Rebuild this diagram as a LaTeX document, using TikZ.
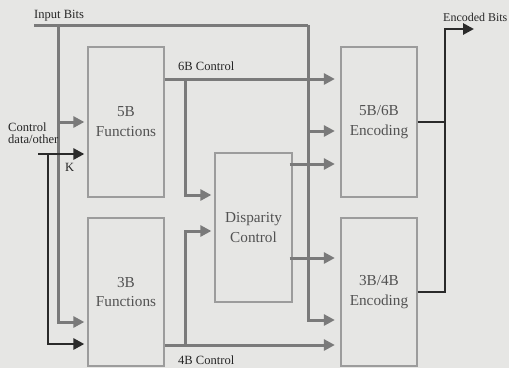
\documentclass[tikz,border=0pt]{standalone}
\usepackage{fontspec}
\setmainfont{Liberation Serif}
\usetikzlibrary{positioning,calc,arrows.meta}
\definecolor{bggray}{HTML}{E6E6E4}
\definecolor{linegray}{HTML}{7A7A7A}
\definecolor{boxgray}{HTML}{9C9C9C}
\definecolor{inkdark}{HTML}{2A2A2A}

\begin{document}
\begin{tikzpicture}[x=1bp, y=-1bp,
        block/.style={draw=boxgray, line width=1.3bp, rectangle, minimum width=76bp, minimum height=150bp, inner sep=0pt, align=center, text=black!68, font=\fontsize{15.3}{20}\selectfont},
        lbl/.style={inner sep=0pt, text=black!85, font=\fontsize{12.6}{12}\selectfont},
        sig/.style={draw=linegray, line width=3bp},
        ctl/.style={draw=inkdark, line width=2.8bp},
        arr/.style={->, shorten >=3bp},
        earr/.style={->, shorten >=5.5bp},
        >={Triangle[length=11bp,width=11bp]}
    ]
        \fill[bggray] (0,0) rectangle (509,368);
        \useasboundingbox (0,0) rectangle (509,368);

        % blocks
        \node [block] (fiveB) at (126,122) {5B\\Functions};
        \node [block, minimum height=148bp] (threeB) at (126,292) {3B\\Functions};
        \node [block, minimum width=77bp, minimum height=149bp] (disp) at (253.5,227.5) {Disparity\\Control};
        \node [block] (enc6) at (379,122) {5B/6B\\Encoding};
        \node [block, minimum height=148bp] (enc4) at (379,292) {3B/4B\\Encoding};

        % junctions and free ends
        \coordinate (inL) at (34,25);
        \coordinate (inT) at (58,25);
        \coordinate (inR) at (308,25);
        \coordinate (ctlL) at (38,154);
        \coordinate (ctlT) at (48,154);
        \coordinate (sixT) at (185,79);
        \coordinate (fourT) at (185,345);
        \coordinate (outT) at (445,29);
        \coordinate (outR) at (474,29);

        % input bits
        \draw [sig] (inL) -- (inR);
        \draw [sig, arr] (inT |- fiveB.west) -- (fiveB.west);
        \draw [sig, arr] (inT) |- (threeB.west |- 0,322);
        \draw [sig, earr] (inR |- 0,131) -- (enc6.west |- 0,131);
        \draw [sig, earr] (inR) |- (enc4.west |- 0,320);

        % control data / K
        \draw [ctl, arr] (ctlL) -- (fiveB.west |- ctlL);
        \draw [ctl, arr] (ctlT) |- (threeB.west |- 0,344);

        % 6B and 4B control
        \draw [sig, earr] (fiveB.east |- sixT) -- (enc6.west |- sixT);
        \draw [sig, arr] (sixT) |- (disp.west |- 0,195);
        \draw [sig, earr] (threeB.east |- fourT) -- (enc4.west |- fourT);
        \draw [sig, arr] (fourT) |- (disp.west |- 0,231);

        % disparity outputs
        \draw [sig, earr] ($(disp.east |- 0,164)+(-3,0)$) -- (enc6.west |- 0,164);
        \draw [sig, earr] ($(disp.east |- 0,258)+(-3,0)$) -- (enc4.west |- 0,258);

        % encoded output
        \draw [ctl] (enc6.east) -- (enc6.east -| outT);
        \draw [ctl, ->] (enc4.east) -| (outT) -- (outR);

        % labels
        \node [lbl, anchor=base west] (inLbl) at (34,18.5) {Input Bits};
        \node [lbl, anchor=base east, font=\fontsize{12}{12}\selectfont] (outLbl) at (507.5,21.5) {Encoded Bits};
        \node [lbl, anchor=base west] (sixLbl) at (178,70.5) {6B Control};
        \node [lbl, anchor=base west] (fourLbl) at (178,364) {4B Control};
        \node [lbl, anchor=base west] (ctlLbl) at (8,131.5) {Control};
        \node [lbl, anchor=base west] (dataLbl) at (8,143.5) {data/other};
        \node [lbl, anchor=base west] (kLbl) at (65,171) {K};
    \end{tikzpicture}
\end{document}
